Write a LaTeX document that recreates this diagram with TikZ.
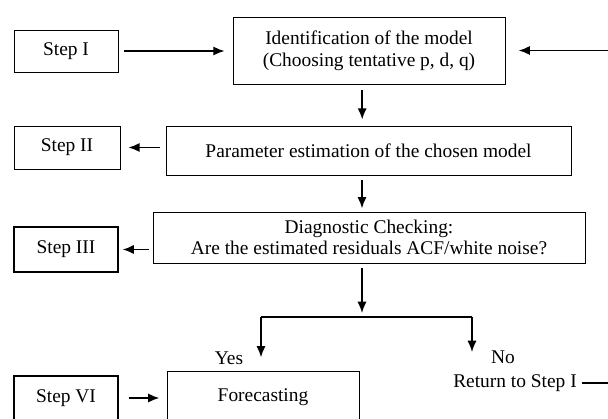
\documentclass[tikz,border=0pt]{standalone}
\usepackage{fontspec}
\setmainfont{Liberation Serif}
\usetikzlibrary{arrows.meta,positioning,calc}

\tikzset{
  box/.style={draw, semithick, align=center, inner sep=2pt},
  arr/.style={line width=1.1pt, -{Latex[length=8pt,width=6.5pt]}},
}

\begin{document}
\begin{tikzpicture}[x=0.025cm, y=-0.025cm, font=\fontsize{13.8}{15.5}\selectfont]
\useasboundingbox (0,0) rectangle (608,419);
\clip (0,0) rectangle (608,419);
\node[box, minimum width=2.6cm,  minimum height=1.05cm]  (step1) at (66,51)     {Step I};
\node[box, minimum width=6.8cm,  minimum height=1.675cm] (ident) at (369,50.5)  {Identification of the model\\(Choosing tentative p, d, q)};
\node[box, minimum width=2.65cm, minimum height=1.075cm] (step2) at (67,147.5)  {Step II};
\node[box, minimum width=10.125cm, minimum height=1.225cm] (param) at (368.5,150.5) {Parameter estimation of the chosen model};
\node[box, minimum width=10.8cm, minimum height=1.275cm] (diag)  at (369,237.5) {Diagnostic Checking:\\Are the estimated residuals ACF/white noise?};
\node[box, thick, minimum width=2.6cm,  minimum height=1.125cm] (step3) at (66,249.5)  {Step III};
\node[box, minimum width=4.8cm,  minimum height=1.3cm]   (fore)  at (263,397)   {Forecasting};
\node[box, thick, minimum width=2.6cm,  minimum height=1.1cm]   (step6) at (66,398)    {Step VI};
\node (yes) at (229,358) {Yes};
\node (no)  at (503,357) {No};
\node (ret) at (515,383) {Return to Step I};
\coordinate (split) at (362,317);
\coordinate (yesB)  at (261,317);
\coordinate (noB)   at (472,317);
\coordinate (fb)    at (640,383);
\draw[arr, shorten <=0.15cm, shorten >=0.2cm] (step1.east) -- (step1.east -| ident.west);
\draw[arr, shorten >=0.33cm] (ret.east) -- (fb) |- (ident.east);
\draw[arr, shorten <=0.15cm, shorten >=0.15cm] ([xshift=-0.17cm]ident.south) -- ([xshift=-0.17cm]ident.south |- param.north);
\draw[arr, shorten <=0.12cm, shorten >=0.08cm] (split |- param.south) -- (split |- diag.north);
\draw[arr, shorten <=0.12cm, shorten >=0.1cm] (split |- diag.south) -- (split);
\draw[line width=1.1pt] (yesB) -- (noB);
\draw[arr, shorten >=0.33cm] (yesB) -- (yesB |- fore.north);
\draw[arr] (noB) -- ++(0,35);
\draw[arr, shorten <=0.15cm, shorten >=0.2cm] (step2.east -| param.west) -- (step2.east);
\draw[arr, shorten <=0.08cm, shorten >=0.1cm] (step3.east -| diag.west) -- (step3.east);
\draw[arr, shorten <=0.25cm, shorten >=0.18cm] (step6.east) -- (step6.east -| fore.west);
\end{tikzpicture}
\end{document}
